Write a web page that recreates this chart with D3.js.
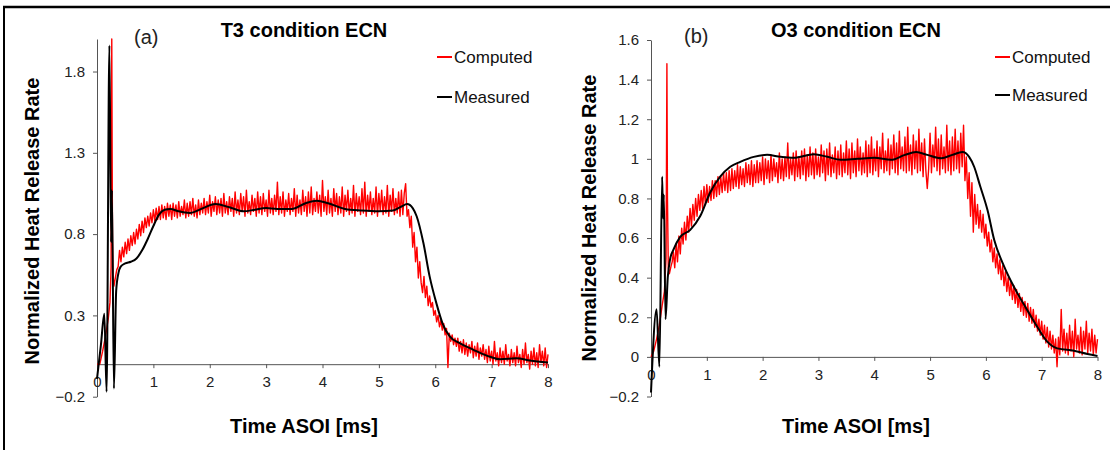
<!DOCTYPE html>
<html><head><meta charset="utf-8">
<script src="https://cdn.jsdelivr.net/npm/d3@7"></script>
<style>
body{margin:0;background:#fff;}
svg text{font-family:"Liberation Sans",Arial,Helvetica,sans-serif;}
</style></head><body>
<svg id="c" width="1110" height="450"></svg>
<script>
// ---------- data ----------
const xTicks = [0,1,2,3,4,5,6,7,8];
const yTicksA = [-0.2,0.3,0.8,1.3,1.8];
const yTicksB = [-0.2,0,0.2,0.4,0.6,0.8,1,1.2,1.4,1.6];
const titles = ["T3 condition ECN","O3 condition ECN"];
const panelLabels = ["(a)","(b)"];
const seriesNames = ["Computed","Measured"];
const xLabel = "Time ASOI [ms]";
const yLabel = "Normalized Heat Release Rate";

// computed: early [t, v] pairs, then samples on a regular time grid
const compGridStart = 0.4, compGridStep = 0.025;

const compEarlyA = [[0,0],[0.05,0.0],[0.1,0.08],[0.15,0.17],[0.2,0.28],[0.23,0.38],[0.25,0.6],[0.262,2.0],[0.27,1.2],[0.275,0.75],[0.285,0.55],[0.3,0.48],[0.32,0.52],[0.35,0.58],[0.375,0.6]];
const compValuesA = [
.70,.63,.72,.66,.75,.68,.77,.70,.79,.73,.81,.74,.83,.77,.86,.79,.88,.81,.90,.84,
.91,.85,.93,.87,.95,.88,.96,.89,.97,.89,.98,.90,.97,.89,.99,.91,.98,.89,.99,.91,
.98,.90,1.00,.91,.97,.92,1.01,.90,.99,.91,1.00,.92,1.02,.91,.98,.90,1.01,.92,.99,.93,
1.02,.92,1.00,.93,1.04,.91,1.00,.94,1.03,.92,1.01,.93,1.02,.91,1.05,.93,1.00,.92,1.03,.94,
1.02,.91,1.06,.93,1.01,.92,1.05,.94,1.03,.91,1.07,.93,1.00,.92,1.04,.94,1.02,.91,1.06,.93,
1.03,.92,1.05,.94,1.01,.91,1.07,.93,1.02,.92,1.04,.94,1.12,.92,1.03,.93,1.06,.91,1.01,.94,
1.05,.92,1.02,.94,1.08,.91,1.04,.93,1.01,.92,1.07,.94,1.03,.91,1.06,.93,1.09,.92,1.02,.94,
1.06,.93,1.04,.91,1.13,.94,1.03,.92,1.07,.93,1.02,.91,1.08,.94,1.05,.92,1.03,.93,1.09,.91,
1.04,.94,1.07,.92,1.02,.93,1.10,.91,1.05,.94,1.03,.92,1.08,.93,1.12,.91,1.04,.94,1.06,.92,
1.02,.93,1.09,.91,1.05,.94,1.07,.92,1.03,.93,1.10,.91,1.04,.94,1.08,.92,1.02,.93,1.06,.91,
1.07,.92,1.05,1.11,.91,.95,.84,.91,.72,.81,.63,.72,.53,.63,.50,.44,.54,.41,.48,.36,
.42,.35,.38,.30,.33,.26,.30,.23,.27,.21,.25,.18,.22,-.02,.19,.14,.18,.12,.16,.11,
.16,.08,.14,.07,.15,.06,.13,.05,.12,.07,.14,.04,.11,.05,.13,.03,.10,.05,.12,.03,
.09,.01,.11,.02,.08,.00,.14,.02,.07,-.01,.10,.01,.08,.00,.12,.02,.06,-.01,.09,.01,
.07,-.01,.11,.01,.06,-.02,.09,.00,.13,.01,.06,-.03,.08,.00,.10,-.01,.07,-.02,.12,.01,
.08,-.01,.10,-.02,.06
];
const measuredA = [[0,-0.09],[0.07,0.12],[0.13,0.31],[0.17,-0.17],[0.22,1.96],[0.25,0.75],[0.265,1.07],[0.3,-0.15],[0.34,0.45],[0.38,0.56],[0.42,0.6],[0.5,0.62],[0.6,0.63],[0.7,0.65],[0.8,0.7],[0.9,0.77],[1.0,0.85],[1.1,0.92],[1.2,0.95],[1.3,0.955],[1.45,0.94],[1.65,0.93],[1.85,0.955],[2.1,0.985],[2.35,0.965],[2.6,0.94],[2.8,0.95],[3.0,0.96],[3.2,0.955],[3.45,0.955],[3.7,0.99],[3.9,1.005],[4.1,0.99],[4.4,0.955],[4.7,0.945],[5.0,0.94],[5.25,0.945],[5.4,0.97],[5.5,0.985],[5.6,0.96],[5.67,0.91],[5.79,0.745],[5.9,0.54],[6.02,0.375],[6.13,0.25],[6.26,0.17],[6.44,0.128],[6.67,0.09],[6.97,0.046],[7.15,0.03],[7.44,0.036],[7.68,0.022],[8.0,0.01]];

const compEarlyB = [[0,0],[0.05,0.03],[0.1,0.09],[0.15,0.16],[0.2,0.26],[0.24,0.33],[0.27,0.5],[0.285,1.48],[0.295,0.8],[0.31,0.45],[0.33,0.42],[0.36,0.46],[0.38,0.48]];
const compValuesB = [
.53,.45,.57,.48,.61,.52,.65,.57,.68,.59,.71,.63,.75,.66,.77,.69,.80,.71,.82,.74,
.84,.75,.86,.77,.87,.78,.86,.79,.89,.80,.89,.81,.91,.82,.91,.83,.93,.84,.93,.83,
.94,.84,.95,.85,.94,.86,.97,.85,.96,.87,.95,.86,.98,.88,.97,.87,.99,.86,.97,.88,
.99,.88,.98,.89,1.01,.87,1.00,.90,.99,.88,1.02,.89,1.00,.91,.98,.88,1.03,.90,1.00,.89,
1.01,.91,1.08,.90,1.00,.92,1.03,.89,1.04,.91,1.01,.90,1.04,.92,1.05,.89,1.02,.91,1.06,.92,
1.03,.90,1.05,.92,1.01,.91,1.07,.93,1.04,.89,1.05,.92,1.08,.91,1.02,.93,1.06,.90,1.04,.92,
1.07,.91,1.03,.93,1.09,.92,1.05,.90,1.08,.93,1.04,.91,1.10,.94,1.06,.92,1.03,.93,1.09,.91,
1.07,.93,1.11,.92,1.05,.94,1.09,.91,1.06,.95,1.13,.93,1.04,.94,1.10,.92,1.07,.95,1.12,.93,
1.08,.92,1.14,.95,1.06,.94,1.11,.93,1.16,.94,1.07,.92,1.12,.95,1.09,.93,1.15,.94,1.08,.91,
1.10,.94,.85,.95,1.13,.93,1.07,.96,1.16,.94,1.10,.92,1.12,.95,1.06,.93,1.17,.94,1.09,.92,
1.11,.94,1.15,.95,1.09,.93,1.13,.96,1.17,.89,1.01,.80,.93,.71,.88,.63,.82,.67,.77,.65,
.74,.63,.72,.60,.67,.56,.63,.53,.59,.48,.55,.45,.52,.42,.49,.39,.46,.36,.43,.33,
.40,.31,.38,.29,.36,.27,.34,.25,.32,.23,.30,.21,.28,.20,.27,.18,.25,.17,.24,.15,
.21,.13,.19,.11,.18,.09,.16,.07,.15,.05,.13,.04,.11,.02,.09,-.05,.10,.01,.24,.03,
.14,.02,.12,.01,.16,.03,.13,.00,.19,.04,.11,.02,.15,.01,.13,.04,.18,.02,.12,.03,
.14,.01,.11,.02,.09
];
const measuredB = [[0,-0.18],[0.1,0.24],[0.15,-0.05],[0.2,0.91],[0.215,0.7],[0.23,0.82],[0.26,0.19],[0.3,0.4],[0.34,0.49],[0.4,0.54],[0.52,0.605],[0.7,0.64],[0.88,0.71],[1.06,0.83],[1.24,0.91],[1.42,0.96],[1.6,0.985],[1.84,1.01],[2.08,1.02],[2.32,1.01],[2.56,1.005],[2.92,1.023],[3.16,1.01],[3.4,0.995],[3.7,1.0],[4.0,1.005],[4.3,0.995],[4.55,1.02],[4.75,1.034],[4.95,1.02],[5.2,1.003],[5.4,1.02],[5.58,1.034],[5.7,1.01],[5.79,0.96],[5.9,0.86],[6.03,0.74],[6.15,0.59],[6.33,0.455],[6.5,0.355],[6.74,0.237],[6.92,0.152],[7.1,0.077],[7.28,0.043],[7.58,0.031],[7.82,0.015],[8.0,0.005]];

// ---------- drawing ----------
const svg = d3.select("#c");
const font = '"Liberation Sans",Arial,Helvetica,sans-serif';

// frame
svg.append("line").attr("x1",3).attr("x2",1110).attr("y1",7).attr("y2",7).attr("stroke","#000").attr("stroke-width",2.5);
svg.append("line").attr("x1",4).attr("x2",4).attr("y1",6).attr("y2",450).attr("stroke","#000").attr("stroke-width",2);

function buildComputed(early, vals){
  return early.concat(vals.map((v,i)=>[compGridStart+i*compGridStep, v]));
}

const panels = [
  {xr:[97,548], yd:[-0.2,2.0], yr:[396.7,39], yt:yTicksA, comp:buildComputed(compEarlyA,compValuesA), meas:measuredA,
   title:titles[0], tcx:304, lab:panelLabels[0], labx:134, laby:44, ylx:39, yly:221, xlx:304,
   legx:437, legy:[57,97]},
  {xr:[651,1097.5], yd:[-0.2,1.6], yr:[396.5,40], yt:yTicksB, comp:buildComputed(compEarlyB,compValuesB), meas:measuredB,
   title:titles[1], tcx:856, lab:panelLabels[1], labx:684, laby:43, ylx:596, yly:218, xlx:856,
   legx:995, legy:[57,95]}
];

panels.forEach(p=>{
  const x = d3.scaleLinear().domain([0,8]).range(p.xr);
  const y = d3.scaleLinear().domain(p.yd).range(p.yr);
  const g = svg.append("g");

  const ya = g.append("g").attr("transform",`translate(${p.xr[0]},0)`)
    .call(d3.axisLeft(y).tickValues(p.yt).tickSize(4).tickSizeOuter(0).tickPadding(8).tickFormat(d3.format("")));
  const xa = g.append("g").attr("transform",`translate(0,${y(0)})`)
    .call(d3.axisBottom(x).tickValues(xTicks).tickSize(4).tickSizeOuter(0).tickPadding(8));
  [ya,xa].forEach(a=>{
    a.selectAll("path,line").attr("stroke","#555").attr("stroke-width",1);
    a.selectAll("text").attr("fill","#222").style("font-size","15px").style("font-family",font);
  });

  g.append("path").datum(p.comp).attr("d",d3.line().x(d=>x(d[0])).y(d=>y(d[1])).curve(d3.curveLinear))
    .attr("fill","none").attr("stroke","#ff0000").attr("stroke-width",1.4).attr("stroke-linejoin","round");
  g.append("path").datum(p.meas).attr("d",d3.line().x(d=>x(d[0])).y(d=>y(d[1])).curve(d3.curveMonotoneX))
    .attr("fill","none").attr("stroke","#000").attr("stroke-width",2);

  g.append("text").attr("x",p.tcx).attr("y",37).attr("text-anchor","middle")
    .style("font-size","20px").style("font-weight","bold").text(p.title);
  g.append("text").attr("x",p.labx).attr("y",p.laby)
    .style("font-size","20px").attr("fill","#222").text(p.lab);
  g.append("text").attr("transform",`translate(${p.ylx},${p.yly}) rotate(-90)`).attr("text-anchor","middle")
    .style("font-size","20px").style("font-weight","bold").text(yLabel);
  g.append("text").attr("x",p.xlx).attr("y",433).attr("text-anchor","middle")
    .style("font-size","20px").style("font-weight","bold").text(xLabel);

  const colors = ["#ff0000","#000"];
  seriesNames.forEach((s,i)=>{
    g.append("line").attr("x1",p.legx).attr("x2",p.legx+15).attr("y1",p.legy[i]).attr("y2",p.legy[i])
      .attr("stroke",colors[i]).attr("stroke-width",2);
    g.append("text").attr("x",p.legx+17).attr("y",p.legy[i]+6)
      .style("font-size","17px").attr("fill","#111").text(s);
  });
});
</script>
</body></html>
